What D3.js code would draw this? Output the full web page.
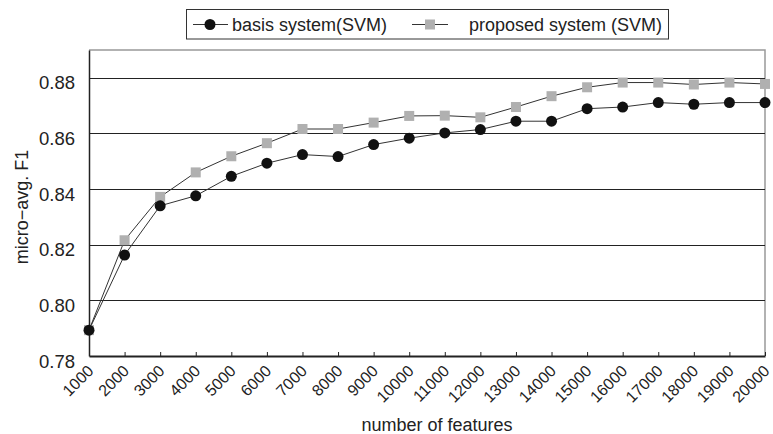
<!DOCTYPE html>
<html>
<head>
<meta charset="utf-8">
<script src="https://cdn.jsdelivr.net/npm/d3@7"></script>
<style>
  body { margin: 0; background: #fff; }
  text { font-family: "Liberation Sans", Arial, sans-serif; fill: #222; }
</style>
</head>
<body>
<div id="chart-area"></div>
<script>
// data
var features = [1000, 2000, 3000, 4000, 5000, 6000, 7000, 8000, 9000, 10000,
    11000, 12000, 13000, 14000, 15000, 16000, 17000, 18000, 19000, 20000];
var basis = [0.7893, 0.8163, 0.8340, 0.8376, 0.8446, 0.8493, 0.8524, 0.8517, 0.8560, 0.8583,
    0.8602, 0.8614, 0.8644, 0.8644, 0.8689, 0.8695, 0.8711, 0.8705, 0.8711, 0.8711];
var proposed = [0.7893, 0.8216, 0.8372, 0.8460, 0.8518, 0.8565, 0.8616, 0.8616, 0.8639, 0.8663,
    0.8664, 0.8658, 0.8695, 0.8734, 0.8766, 0.8783, 0.8783, 0.8776, 0.8783, 0.8778];
var yTicks = [0.78, 0.80, 0.82, 0.84, 0.86, 0.88];

var width = 773, height = 434;
var margin = {top: 50, right: 8, bottom: 78, left: 89};

var svg = d3.select("#chart-area").append("svg")
    .attr("width", width)
    .attr("height", height);

var x = d3.scaleLinear()
    .domain([1000, 20000])
    .range([margin.left, width - margin.right]);

var y = d3.scaleLinear()
    .domain([0.78, 0.89])
    .range([height - margin.bottom, margin.top]);

// frame top / right (gray)
svg.append("path")
    .attr("d", `M${x(1000)},${y(0.89)}H${x(20000)}V${y(0.78)}`)
    .attr("fill", "none")
    .attr("stroke", "#999")
    .attr("stroke-width", 1.5);

// gridlines
svg.selectAll(".grid")
    .data(yTicks.slice(1))
    .enter().append("line")
        .attr("x1", x(1000))
        .attr("x2", x(20000))
        .attr("y1", d => Math.round(y(d)) + 0.5)
        .attr("y2", d => Math.round(y(d)) + 0.5)
        .attr("stroke", "#222")
        .attr("stroke-width", 1);

// y axis
var yAxis = d3.axisLeft(y)
    .tickValues(yTicks)
    .tickFormat(d3.format(".2f"))
    .tickSize(0)
    .tickPadding(14);

var gy = svg.append("g")
    .attr("transform", `translate(${x(1000)},0)`)
    .call(yAxis);
gy.select(".domain").attr("stroke", "#222").attr("stroke-width", 1.5);
gy.selectAll("text")
    .attr("font-size", 18.5)
    .attr("dy", "0.65em")
    .attr("y", -1)
    .attr("fill", "#222");

// x axis, ticks pointing inward
var xAxis = d3.axisBottom(x)
    .tickValues(features)
    .tickFormat(d3.format("d"))
    .tickSizeInner(-4)
    .tickSizeOuter(0);

var gx = svg.append("g")
    .attr("transform", `translate(0,${y(0.78)})`)
    .call(xAxis);
gx.select(".domain").attr("stroke", "#222").attr("stroke-width", 2);
gx.selectAll(".tick line").attr("stroke", "#222");
gx.selectAll("text")
    .attr("font-size", 16)
    .attr("fill", "#222")
    .attr("text-anchor", "end")
    .attr("dy", 0)
    .attr("y", 0)
    .attr("transform", "translate(5,16) rotate(-45)");

// lines
var line = d3.line()
    .x((d, i) => x(features[i]))
    .y(d => y(d));

svg.append("path")
    .datum(proposed)
    .attr("d", line)
    .attr("fill", "none")
    .attr("stroke", "#333")
    .attr("stroke-width", 1);

svg.append("path")
    .datum(basis)
    .attr("d", line)
    .attr("fill", "none")
    .attr("stroke", "#333")
    .attr("stroke-width", 1);

svg.selectAll(".sq")
    .data(proposed)
    .enter().append("rect")
        .attr("x", (d, i) => x(features[i]) - 5)
        .attr("y", d => y(d) - 5)
        .attr("width", 10)
        .attr("height", 10)
        .attr("fill", "#b0b0b0");

svg.selectAll(".dot")
    .data(basis)
    .enter().append("circle")
        .attr("cx", (d, i) => x(features[i]))
        .attr("cy", d => y(d))
        .attr("r", 5.5)
        .attr("fill", "#111");

// axis titles
svg.append("text")
    .attr("x", 437)
    .attr("y", 431)
    .attr("text-anchor", "middle")
    .attr("font-size", 18)
    .text("number of features");

svg.append("text")
    .attr("transform", "translate(28,207) rotate(-90)")
    .attr("text-anchor", "middle")
    .attr("font-size", 18)
    .text("micro\u2212avg. F1");

// legend
var legend = svg.append("g");
legend.append("rect")
    .attr("x", 186.5).attr("y", 9.5)
    .attr("width", 482).attr("height", 29.5)
    .attr("fill", "#fff")
    .attr("stroke", "#333")
    .attr("stroke-width", 1);

legend.append("line")
    .attr("x1", 193).attr("x2", 228).attr("y1", 24.5).attr("y2", 24.5)
    .attr("stroke", "#333");
legend.append("circle")
    .attr("cx", 210).attr("cy", 24.5).attr("r", 5.5)
    .attr("fill", "#111");
legend.append("text")
    .attr("x", 232).attr("y", 31)
    .attr("font-size", 18)
    .text("basis system(SVM)");

legend.append("line")
    .attr("x1", 412).attr("x2", 448).attr("y1", 24.5).attr("y2", 24.5)
    .attr("stroke", "#333");
legend.append("rect")
    .attr("x", 425).attr("y", 19.5).attr("width", 10).attr("height", 10)
    .attr("fill", "#b0b0b0");
legend.append("text")
    .attr("x", 469).attr("y", 31)
    .attr("font-size", 18)
    .text("proposed system (SVM)");
</script>
</body>
</html>
